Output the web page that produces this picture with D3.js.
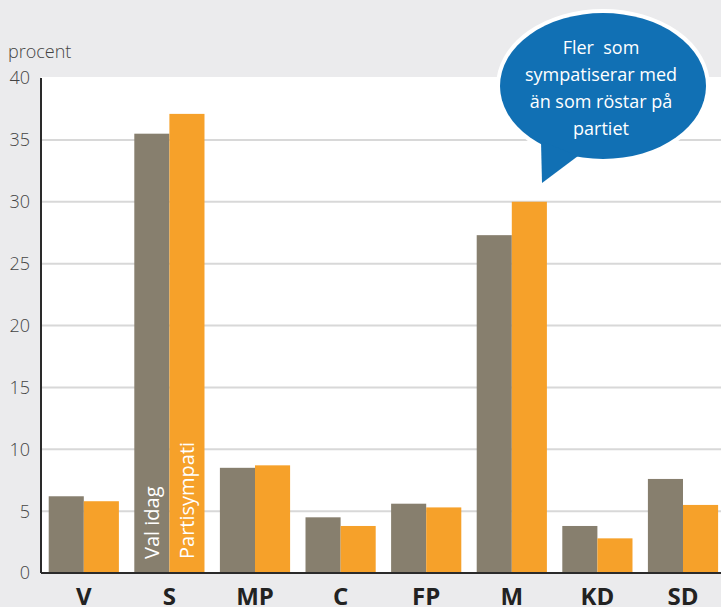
<!DOCTYPE html>
<html>
<head>
<meta charset="utf-8">
<script src="https://cdn.jsdelivr.net/npm/d3@7"></script>
<style>
  body { margin: 0; background: #ebebed; }
  svg { display: block; }
</style>
</head>
<body>
<div id="chart"></div>
<script>
// Partisympati vs val idag (procent)
const categories = ['V', 'S', 'MP', 'C', 'FP', 'M', 'KD', 'SD'];
const valIdag = [6.2, 35.5, 8.5, 4.5, 5.6, 27.3, 3.8, 7.6];
const partisympati = [5.8, 37.1, 8.7, 3.8, 5.3, 30.0, 2.8, 5.5];
const yTicks = [0, 5, 10, 15, 20, 25, 30, 35, 40];
const bubbleLines = ['Fler  som', 'sympatiserar med', 'än som röstar på', 'partiet'];

const width = 721, height = 607;
const margin = { top: 78, right: 0, bottom: 34, left: 41 };
const font = '"Open Sans", "Noto Sans", sans-serif';

const svg = d3.select('#chart').append('svg')
    .attr('width', width)
    .attr('height', height);

svg.append('rect')
    .attr('width', width).attr('height', height)
    .attr('fill', '#ebebed');

const x = d3.scaleBand()
    .domain(categories)
    .range([margin.left, margin.left + 8 * 85.6])
    .paddingInner(0.18)
    .paddingOuter(0.09);

const y = d3.scaleLinear()
    .domain([0, 40])
    .range([height - margin.bottom, margin.top]);

// white plot area
svg.append('rect')
    .attr('x', margin.left)
    .attr('y', y(40) - 1)
    .attr('width', width - margin.left)
    .attr('height', y(0) - y(40) + 1)
    .attr('fill', '#fff');

// gridlines
svg.append('g')
    .selectAll('line')
    .data(yTicks.filter(d => d > 0 && d < 40))
    .join('line')
    .attr('x1', margin.left)
    .attr('x2', width)
    .attr('y1', d => y(d))
    .attr('y2', d => y(d))
    .attr('stroke', '#d8d8d8')
    .attr('stroke-width', 2);

// y tick labels
svg.append('g')
    .selectAll('text')
    .data(yTicks)
    .join('text')
    .attr('x', 30)
    .attr('y', d => y(d))
    .attr('dy', '0.36em')
    .attr('text-anchor', 'end')
    .style('font-family', font)
    .style('font-size', '18px')
    .style('font-weight', 300)
    .style('fill', '#444')
    .text(d => d);

svg.append('text')
    .attr('x', 8)
    .attr('y', 58)
    .style('font-family', font)
    .style('font-size', '18px')
    .style('font-weight', 300)
    .style('fill', '#444')
    .text('procent');

// bars
const inner = d3.scaleBand()
    .domain(['val', 'symp'])
    .range([0, x.bandwidth()]);

const groups = svg.append('g')
    .selectAll('g')
    .data(categories)
    .join('g')
    .attr('transform', d => `translate(${x(d)},0)`);

groups.append('rect')
    .attr('x', inner('val'))
    .attr('width', inner.bandwidth())
    .attr('y', (d, i) => y(valIdag[i]))
    .attr('height', (d, i) => y(0) - y(valIdag[i]))
    .attr('fill', '#877f6e');

groups.append('rect')
    .attr('x', inner('symp'))
    .attr('width', inner.bandwidth())
    .attr('y', (d, i) => y(partisympati[i]))
    .attr('height', (d, i) => y(0) - y(partisympati[i]))
    .attr('fill', '#f6a12a');

// rotated series labels inside the S bars
const sX = x('S');
[['val', 'Val idag'], ['symp', 'Partisympati']].forEach(([key, label]) => {
    const cx = sX + inner(key) + inner.bandwidth() / 2;
    svg.append('text')
        .attr('transform', `translate(${cx + 7},${y(0) - 14}) rotate(-90)`)
        .style('font-family', font)
        .style('font-size', '20px')
        .style('fill', '#fff')
        .text(label);
});

// axes lines
svg.append('line')
    .attr('x1', margin.left).attr('x2', width)
    .attr('y1', y(0)).attr('y2', y(0))
    .attr('stroke', '#2a2a2a').attr('stroke-width', 2);

svg.append('line')
    .attr('x1', margin.left).attr('x2', margin.left)
    .attr('y1', y(40)).attr('y2', y(0))
    .attr('stroke', '#2a2a2a').attr('stroke-width', 2);

// x labels
svg.append('g')
    .selectAll('text')
    .data(categories)
    .join('text')
    .attr('x', d => x(d) + x.bandwidth() / 2)
    .attr('y', 605)
    .attr('text-anchor', 'middle')
    .style('font-family', font)
    .style('font-size', '24px')
    .style('font-weight', 'bold')
    .style('fill', '#222')
    .text(d => d);

// speech bubble
const bx = 603, by = 86, rx = 103, ry = 73;
const tail = `M ${bx - 62} ${by + 55} L ${bx - 61} ${by + 97} L ${bx - 25} ${by + 70} Z`;

const bubble = svg.append('g');
bubble.append('ellipse')
    .attr('cx', bx).attr('cy', by).attr('rx', rx).attr('ry', ry)
    .attr('fill', '#fff').attr('stroke', '#fff').attr('stroke-width', 8);
bubble.append('ellipse')
    .attr('cx', bx).attr('cy', by).attr('rx', rx).attr('ry', ry)
    .attr('fill', '#1170b4');
bubble.append('path')
    .attr('d', tail)
    .attr('fill', '#1170b4');

bubble.selectAll('text')
    .data(bubbleLines)
    .join('text')
    .attr('x', bx - 2)
    .attr('y', (d, i) => 54 + i * 27)
    .attr('text-anchor', 'middle')
    .style('font-family', font)
    .style('font-size', '18px')
    .style('fill', '#fff')
    .style('white-space', 'pre')
    .text(d => d);
</script>
</body>
</html>
